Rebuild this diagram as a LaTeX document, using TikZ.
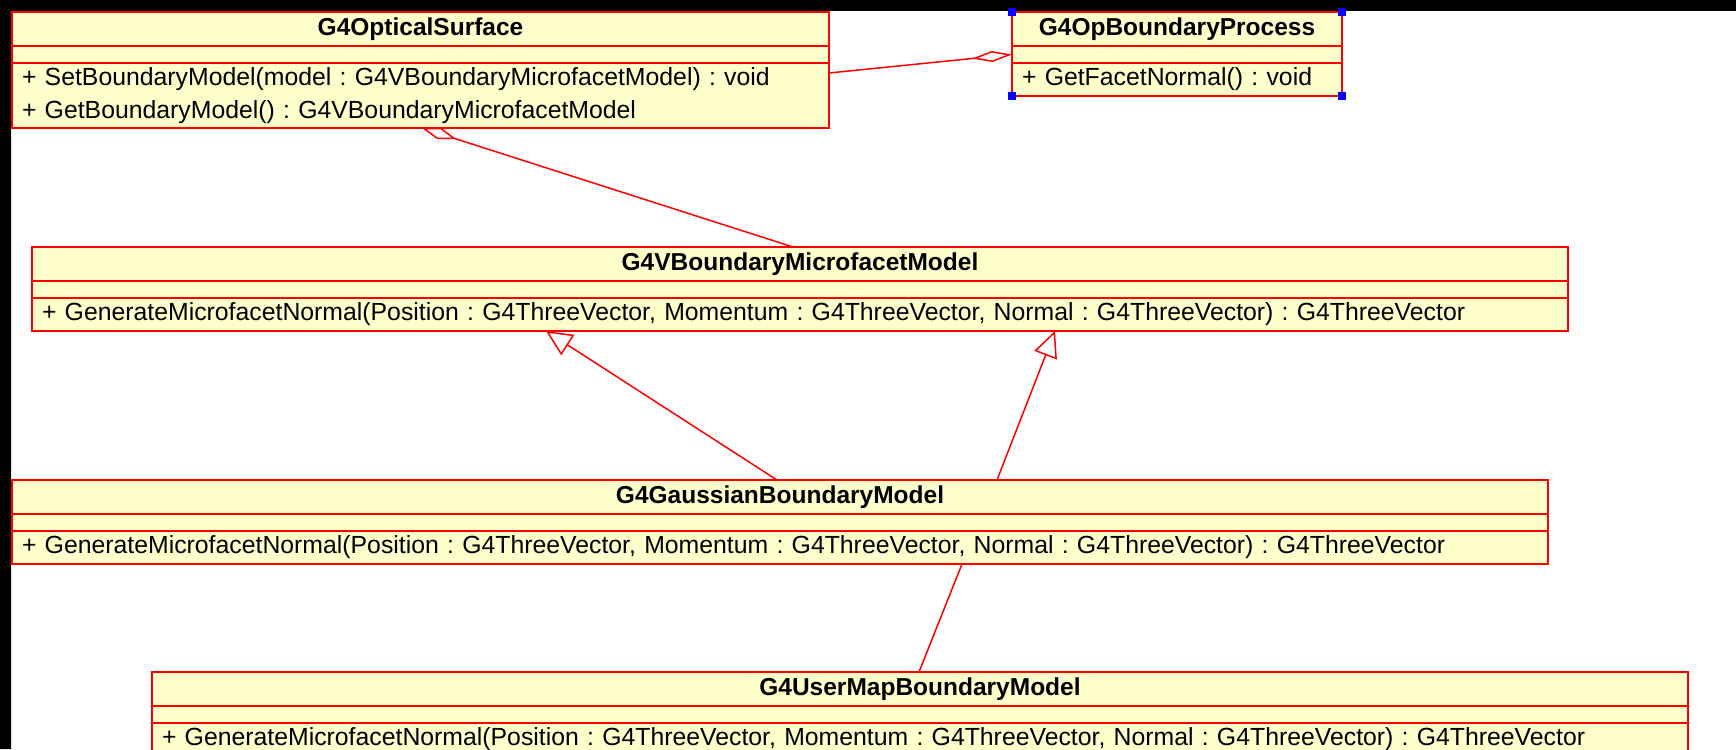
\documentclass[tikz,border=0pt]{standalone}
\usepackage{fontspec}
\setmainfont{Liberation Sans}
\usetikzlibrary{positioning,arrows.meta,calc}
\frenchspacing

\definecolor{classfill}{RGB}{255,255,204}
\definecolor{classline}{RGB}{255,0,0}
\definecolor{handleblue}{RGB}{0,0,255}

\begin{document}
\begin{tikzpicture}[x=1pt, y=-1pt,
    every node/.append style={font=\fontsize{24.8}{33}\selectfont, inner sep=0pt, outer sep=0pt},
    part/.style={draw=classline, fill=classfill, line width=1.6pt},
    ctitle/.style={part, minimum width=#1, minimum height=34pt, font=\fontsize{24.5}{33}\selectfont\bfseries},
    cattr/.style={part, minimum width=#1, minimum height=17pt},
    cops/.style={part, text width=#1, inner xsep=10pt, minimum height=33pt, align=left},
    link/.style={draw=classline, line width=1.5pt},
    ]

    \useasboundingbox (0,0) rectangle (1736,749);
    \fill[white] (0,0) rectangle (1736,749);
    \fill[black] (0,0) rectangle (1736,11) (0,0) rectangle (11,749);   % dark strips at top and left edge

    \def\wlong{1516pt}      % text width of the three long classes (box is 20pt wider)

    % G4OpticalSurface
    \node[ctitle=817pt, anchor=north west] (surf) at (12,12) {G4OpticalSurface};
    \node[cattr=817pt, below=0pt of surf] (surfattr) {};
    \node[cops=797pt, minimum height=65pt, below=0pt of surfattr] (surfops)
        {+ SetBoundaryModel(model : G4VBoundaryMicrofacetModel) : void\\+ GetBoundaryModel() : G4VBoundaryMicrofacetModel};

    % G4OpBoundaryProcess
    \node[ctitle=330pt, anchor=north west] (proc) at (1012,12) {G4OpBoundaryProcess};
    \node[cattr=330pt, below=0pt of proc] (procattr) {};
    \node[cops=310pt, below=0pt of procattr] (procops) {+ GetFacetNormal() : void};

    % G4VBoundaryMicrofacetModel
    \node[ctitle=1536pt, anchor=north west] (micro) at (32,247) {G4VBoundaryMicrofacetModel};
    \node[cattr=1536pt, below=0pt of micro] (microattr) {};
    \node[cops=\wlong, below=0pt of microattr] (microops)
        {+ GenerateMicrofacetNormal(Position : G4ThreeVector, Momentum : G4ThreeVector, Normal : G4ThreeVector) : G4ThreeVector};

    % G4GaussianBoundaryModel
    \node[ctitle=1536pt, anchor=north west] (gauss) at (12,480) {G4GaussianBoundaryModel};
    \node[cattr=1536pt, below=0pt of gauss] (gaussattr) {};
    \node[cops=\wlong, below=0pt of gaussattr] (gaussops)
        {+ GenerateMicrofacetNormal(Position : G4ThreeVector, Momentum : G4ThreeVector, Normal : G4ThreeVector) : G4ThreeVector};

    % G4UserMapBoundaryModel (cut off by the bottom edge)
    \node[ctitle=1536pt, anchor=north west] (usermap) at (152,672) {G4UserMapBoundaryModel};
    \node[cattr=1536pt, below=0pt of usermap] (usermapattr) {};
    \node[cops=\wlong, below=0pt of usermapattr] (usermapops)
        {+ GenerateMicrofacetNormal(Position : G4ThreeVector, Momentum : G4ThreeVector, Normal : G4ThreeVector) : G4ThreeVector};

    % aggregations
    \draw[link, -{Diamond[open, length=40pt, width=11pt]}] ($(surfops.north east)+(0,10)$) -- (procattr.west);
    \draw[link, -{Diamond[open, length=36pt, width=12pt]}] ($(micro.north west)+(761,0)$) -- ($(surfops.south west)+(410,0)$);

    % generalizations
    \draw[link, -{Triangle[open, length=26pt, width=24pt]}] ($(gauss.north west)+(765,0)$) -- ($(microops.south west)+(514,0)$);
    \draw[link, -{Triangle[open, length=26pt, width=24pt]}] ($(gauss.north west)+(985,0)$) -- ($(microops.south west)+(1023,0)$);

    % plain association
    \draw[link] ($(gaussops.south west)+(950,0)$) -- ($(usermap.north west)+(767,0)$);

    % selection handles on G4OpBoundaryProcess
    \foreach \c in {proc.north west, proc.north east, procops.south west, procops.south east}
        \fill[handleblue] ($(\c)+(-4,-4)$) rectangle ($(\c)+(4,4)$);

\end{tikzpicture}
\end{document}
